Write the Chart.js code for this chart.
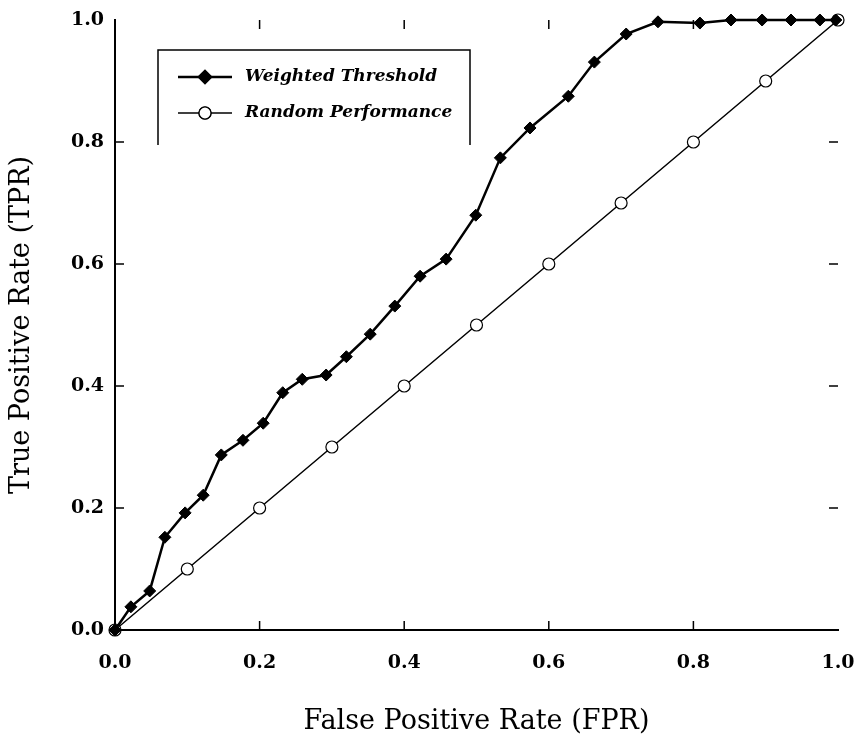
<!DOCTYPE html>
<html>
<head>
<meta charset="utf-8">
<script src="https://cdn.jsdelivr.net/npm/chart.js@4/dist/chart.umd.min.js"></script>
<style>
html,body{margin:0;padding:0;background:#fff;}
#wrap{width:868px;height:742px;}
</style>
</head>
<body>
<div id="wrap"><canvas id="c" width="868" height="742"></canvas></div>
<script>
// ---- data ----
const seriesNames = ["Weighted Threshold", "Random Performance"];
const modelFPR = [0, 0.022, 0.048, 0.069, 0.097, 0.122, 0.147, 0.177, 0.205, 0.232, 0.259, 0.292, 0.320, 0.353, 0.387, 0.422, 0.458, 0.499, 0.533, 0.574, 0.627, 0.663, 0.707, 0.751, 0.809, 0.852, 0.895, 0.935, 0.975, 0.997];
const modelTPR = [0, 0.038, 0.064, 0.152, 0.192, 0.221, 0.287, 0.311, 0.339, 0.389, 0.411, 0.418, 0.448, 0.485, 0.531, 0.580, 0.608, 0.680, 0.774, 0.823, 0.875, 0.931, 0.977, 0.997, 0.995, 1.0, 1.0, 1.0, 1.0, 1.0];
const randomFPR = [0, 0.1, 0.2, 0.3, 0.4, 0.5, 0.6, 0.7, 0.8, 0.9, 1.0];
const randomTPR = [0, 0.1, 0.2, 0.3, 0.4, 0.5, 0.6, 0.7, 0.8, 0.9, 1.0];
const tickValues = [0, 0.2, 0.4, 0.6, 0.8, 1.0];
const xTitle = "False Positive Rate (FPR)";
const yTitle = "True Positive Rate (TPR)";

const serif = "'DejaVu Serif','Liberation Serif',serif";

const toPts = (xs, ys) => xs.map((x, i) => ({x: x, y: ys[i]}));

const innerTicks = {
  id: 'innerTicks',
  afterDraw(chart) {
    const {ctx, chartArea: a, scales: {x, y}} = chart;
    ctx.save();
    ctx.strokeStyle = '#000';
    ctx.lineWidth = 1.5;
    const L = 9;
    tickValues.forEach(v => {
      const px = x.getPixelForValue(v);
      if (v > 0 && v < 1) {
        ctx.beginPath();
        ctx.moveTo(px, a.bottom); ctx.lineTo(px, a.bottom - L);
        ctx.moveTo(px, a.top); ctx.lineTo(px, a.top + L);
        ctx.stroke();
      }
      const py = y.getPixelForValue(v);
      if (v > 0 && v < 1) {
        ctx.beginPath();
        ctx.moveTo(a.left, py); ctx.lineTo(a.left + L, py);
        ctx.moveTo(a.right, py); ctx.lineTo(a.right - L, py);
        ctx.stroke();
      }
    });
    ctx.restore();
  }
};

const boxLegend = {
  id: 'boxLegend',
  afterDraw(chart) {
    const ctx = chart.ctx;
    const bx = 158, by = 50, bw = 312, bh = 95;
    ctx.save();
    ctx.strokeStyle = '#000';
    ctx.lineWidth = 1.5;
    ctx.beginPath();
    ctx.moveTo(bx, by + bh); ctx.lineTo(bx, by); ctx.lineTo(bx + bw, by); ctx.lineTo(bx + bw, by + bh);
    ctx.stroke();
    chart.data.datasets.forEach((ds, i) => {
      const yy = 77 + i * 36;
      ctx.strokeStyle = '#000';
      ctx.lineWidth = ds.borderWidth;
      ctx.beginPath();
      ctx.moveTo(178, yy); ctx.lineTo(232, yy);
      ctx.stroke();
      Chart.helpers.drawPoint(ctx, {
        pointStyle: ds.pointStyle, radius: ds.pointRadius, rotation: 0,
        borderWidth: ds.pointBorderWidth || 1
      }, 205, yy);
      ctx.fillStyle = ds.pointBackgroundColor;
      ctx.strokeStyle = '#000';
      ctx.lineWidth = ds.pointBorderWidth || 1;
      ctx.fill();
      ctx.stroke();
      ctx.fillStyle = '#000';
      ctx.font = "italic bold 17px " + serif;
      ctx.textBaseline = 'middle';
      ctx.textAlign = 'left';
      ctx.fillText(ds.label, 245, yy);
    });
    ctx.restore();
  }
};

new Chart(document.getElementById('c'), {
  type: 'line',
  data: {
    datasets: [
      {
        label: seriesNames[0],
        data: toPts(modelFPR, modelTPR),
        borderColor: '#000', borderWidth: 2.5,
        pointStyle: 'rectRot', pointRadius: 6,
        pointBackgroundColor: '#000', pointBorderColor: '#000', pointBorderWidth: 1,
        tension: 0, clip: false
      },
      {
        label: seriesNames[1],
        data: toPts(randomFPR, randomTPR),
        borderColor: '#000', borderWidth: 1.5,
        pointStyle: 'circle', pointRadius: 6,
        pointBackgroundColor: '#fff', pointBorderColor: '#000', pointBorderWidth: 1.2,
        tension: 0, clip: false
      }
    ]
  },
  options: {
    responsive: false,
    animation: false,
    layout: {padding: {top: 20, right: 30, bottom: 0, left: 0}},
    plugins: {legend: {display: false}, tooltip: {enabled: false}},
    scales: {
      x: {
        type: 'linear', min: 0, max: 1,
        afterBuildTicks: s => { s.ticks = tickValues.map(v => ({value: v})); },
        afterFit: s => { s.height = 112; s.paddingRight = 0; s.paddingLeft = 0; },
        grid: {display: false, drawTicks: false},
        border: {display: true, color: '#000', width: 2},
        ticks: {color: '#000', padding: 22, font: {family: serif, size: 19, weight: 'bold'},
                callback: v => v.toFixed(1), maxRotation: 0},
        title: {display: true, text: xTitle, color: '#000', padding: {top: 16}, font: {family: serif, size: 27}}
      },
      y: {
        type: 'linear', min: 0, max: 1,
        afterBuildTicks: s => { s.ticks = tickValues.map(v => ({value: v})); },
        afterFit: s => { s.width = 115; s.paddingTop = 0; s.paddingBottom = 0; },
        grid: {display: false, drawTicks: false},
        border: {display: true, color: '#000', width: 2},
        ticks: {color: '#000', padding: 11, font: {family: serif, size: 19, weight: 'bold'},
                callback: v => v.toFixed(1)},
        title: {display: true, text: yTitle, color: '#000', padding: {top: 6, bottom: 4}, font: {family: serif, size: 27}}
      }
    }
  },
  plugins: [innerTicks, boxLegend]
});
</script>
</body>
</html>
